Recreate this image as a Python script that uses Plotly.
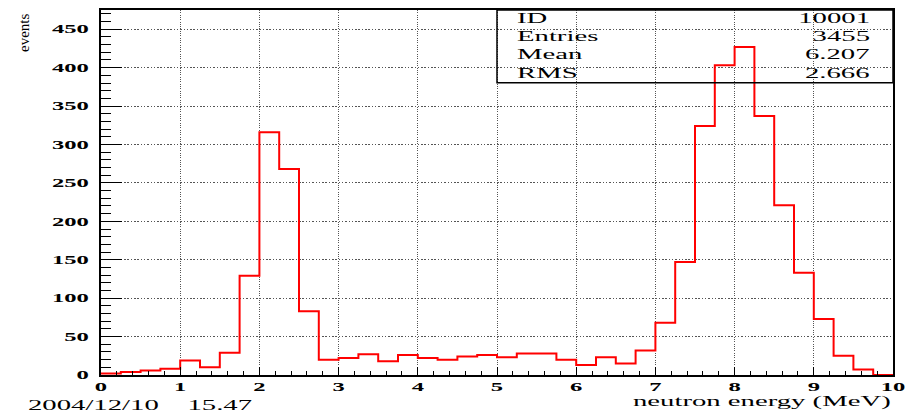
import json
import numpy as np
import plotly.graph_objects as go

# Histogram 10001: neutron energy spectrum, 40 bins of 0.25 MeV over 0-10 MeV
X_MIN, X_MAX, BIN_WIDTH = 0.0, 10.0, 0.25
counts = [2, 4, 6, 8, 19, 10, 29, 129, 316, 268,
          83, 20, 22, 27, 18, 26, 22, 20, 24, 26,
          23, 28, 28, 20, 13, 23, 15, 32, 68, 147,
          324, 403, 427, 337, 221, 133, 73, 25, 7, 0]

stat_names = ["ID", "Entries", "Mean", "RMS"]
stat_values = ["10001", "3455", "6.207", "2.666"]

x_title = "neutron energy (MeV)"
y_title = "events"
date_stamp = "2004/12/10\u00a0\u00a0\u00a0\u00a015.47"

x_ticks = list(range(0, 11))
y_ticks = list(range(0, 451, 50))

edges = X_MIN + BIN_WIDTH * np.arange(len(counts) + 1)
step_y = counts + [counts[-1]]

SERIF = "Liberation Serif, Times New Roman, serif"
STRETCH = 2.05  # horizontal glyph stretch of the horizontal text runs

fig = go.Figure()
fig.add_trace(go.Scatter(
    x=edges, y=step_y, mode="lines", line_shape="hv",
    line=dict(color="#ff0000", width=2), hoverinfo="skip", showlegend=False,
))

# statistics box
fig.add_shape(type="rect", xref="paper", yref="paper",
              x0=0.5, x1=1.0, y0=0.801, y1=1.0,
              line=dict(color="black", width=1.5), fillcolor="rgba(0,0,0,0)")
row_y = [0.977, 0.927, 0.877, 0.827]
for name, val, yy in zip(stat_names, stat_values, row_y):
    fig.add_annotation(text=name, xref="paper", yref="paper", x=0.523, y=yy,
                       xanchor="left", yanchor="middle", align="left", showarrow=False,
                       font=dict(family=SERIF, size=14, color="black"))
    fig.add_annotation(text=val, xref="paper", yref="paper", x=0.974, y=yy,
                       xanchor="right", yanchor="middle", align="right", showarrow=False,
                       font=dict(family=SERIF, size=14, color="black"))

fig.add_annotation(text=x_title, xref="paper", yref="paper", x=1.0, y=-0.073,
                   xanchor="right", yanchor="middle", align="right", showarrow=False,
                   font=dict(family=SERIF, size=14, color="black"))
fig.add_annotation(text=date_stamp, xref="paper", yref="paper", x=-0.095, y=-0.083,
                   xanchor="left", yanchor="middle", align="left", showarrow=False,
                   font=dict(family=SERIF, size=14, color="black"))
fig.add_annotation(text=y_title, xref="paper", yref="paper", x=-0.0966, y=0.996,
                   xanchor="center", yanchor="top", textangle=-90,
                   showarrow=False, font=dict(family=SERIF, size=15, color="black"))

tickfont = dict(family=SERIF, size=12, color="black", weight="bold")
fig.update_xaxes(
    range=[X_MIN, X_MAX], tickvals=x_ticks, ticktext=[str(v) for v in x_ticks],
    ticks="inside", ticklen=8, tickwidth=1, tickcolor="black",
    minor=dict(ticks="inside", ticklen=4, dtick=0.2, tick0=0, tickcolor="black", showgrid=False),
    showline=True, linecolor="black", linewidth=1.5, mirror=True,
    showgrid=True, gridcolor="#555555", gridwidth=1, griddash="1px,1.3px",
    zeroline=False, tickfont=tickfont, ticklabelstandoff=0,
)
fig.update_yaxes(
    range=[0, 475], tickvals=y_ticks, ticktext=[str(v) for v in y_ticks],
    ticks="inside", ticklen=21, tickwidth=1, tickcolor="black",
    minor=dict(ticks="inside", ticklen=10, dtick=10, tick0=0, tickcolor="black", showgrid=False),
    showline=True, linecolor="black", linewidth=1.5, mirror=True,
    showgrid=True, gridcolor="#555555", gridwidth=1, griddash="1.5px,1.8px",
    zeroline=False, tickfont=tickfont, ticklabelstandoff=8,
)

fig.update_layout(
    width=918, height=413,
    margin=dict(l=101, r=25, t=8, b=38, pad=0),
    paper_bgcolor="white", plot_bgcolor="white",
    showlegend=False,
)

# widen the horizontal text runs; the rotated axis title is left as is
post_js = """
(function(){
  var gd = document.getElementById('{plot_id}');
  var F = __F__;
  var skip = __SKIP__;
  gd.querySelectorAll('svg text').forEach(function(t){
    var s = t.textContent;
    if (!s || !s.trim() || skip.indexOf(s) >= 0) return;
    var L = t.getComputedTextLength();
    if (!L) return;
    t.setAttribute('textLength', (L * F).toFixed(2));
    t.setAttribute('lengthAdjust', 'spacingAndGlyphs');
  });
})();
""".replace("__F__", str(STRETCH)).replace("__SKIP__", json.dumps([y_title]))

fig.write_html("out.html", config={"displayModeBar": False}, post_script=post_js)
